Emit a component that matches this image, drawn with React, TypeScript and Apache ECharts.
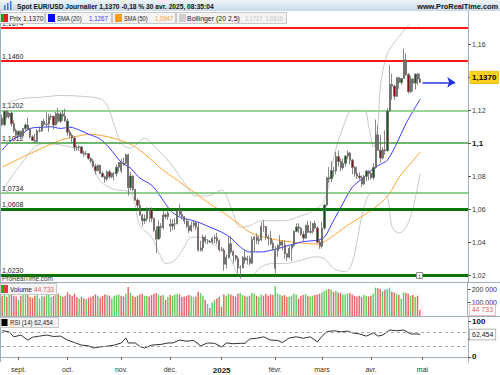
import React, { useEffect, useRef } from 'react';
import * as echarts from 'echarts';

// ---------- data ----------
const SLOTS = 200; // trading-day slots on the time axis (data + blank area on the right)
const monthTickIdx = [7, 28, 51, 72, 94, 117, 137, 158, 180];
const monthLabels = ['sept.', 'oct.', 'nov.', 'déc.', '2025', 'févr.', 'mars', 'avr.', 'mai'];
const priceTicks = [1.02, 1.04, 1.06, 1.08, 1.1, 1.12, 1.14, 1.16];
const priceLabels = [1.02, 1.04, 1.06, 1.08, 1.1, 1.12, 1.16]; // 1,14 sits under the price box
const volumeTicks = [100000, 200000];
const rsiTicks = [0, 50, 100];
const rsiLabels = [0, 100]; // 50 sits under the RSI value box

const opens = [
  1.1151, 1.1113, 1.1193, 1.1161, 1.1183, 1.1119, 1.1077,
  1.1048, 1.1073, 1.1045, 1.1089, 1.1111, 1.1085, 1.1039, 1.1017, 1.1012, 1.1075, 1.1076, 1.1133, 1.1115, 1.1117, 1.1161, 1.1164, 1.1111, 1.1180, 1.1133, 1.1177, 1.1164,
  1.1135, 1.1067, 1.1048, 1.1032, 1.0975, 1.0974, 1.0978, 1.0940, 1.0935, 1.0937, 1.0908, 1.0891, 1.0861, 1.0833, 1.0867, 1.0817, 1.0797, 1.0783, 1.0827, 1.0797, 1.0817, 1.0817, 1.0855,
  1.0884, 1.0880, 1.0877, 1.0930, 1.0730, 1.0801, 1.0720, 1.0655, 1.0623, 1.0564, 1.0529, 1.0542, 1.0598, 1.0596, 1.0544, 1.0472, 1.0418, 1.0495, 1.0488, 1.0565, 1.0555,
  1.0510, 1.0497, 1.0510, 1.0511, 1.0588, 1.0567, 1.0554, 1.0528, 1.0496, 1.0469, 1.0502, 1.0516, 1.0491, 1.0351, 1.0364, 1.0430, 1.0405, 1.0405, 1.0401, 1.0422, 1.0427, 1.0407,
  1.0354, 1.0350, 1.0265, 1.0308, 1.0390, 1.0342, 1.0318, 1.0300, 1.0244, 1.0244, 1.0307, 1.0290, 1.0300, 1.0272, 1.0415, 1.0431, 1.0409, 1.0415, 1.0496, 1.0494, 1.0431, 1.0422, 1.0392,
  1.0240, 1.0347, 1.0379, 1.0402, 1.0382, 1.0330, 1.0308, 1.0362, 1.0380, 1.0465, 1.0492, 1.0484, 1.0448, 1.0424, 1.0502, 1.0459, 1.0465, 1.0512, 1.0485, 1.0399,
  1.0375, 1.0485, 1.0625, 1.0791, 1.0784, 1.0834, 1.0833, 1.0919, 1.0889, 1.0851, 1.0878, 1.0922, 1.0941, 1.0897, 1.0853, 1.0816, 1.0801, 1.0791, 1.0753, 1.0799, 1.0831,
  1.0816, 1.0791, 1.0852, 1.1051, 1.0958, 1.0911, 1.0960, 1.0954, 1.1196, 1.1357, 1.1347, 1.1285, 1.1398, 1.1369, 1.1393, 1.1506, 1.1417, 1.1313, 1.1390, 1.1365, 1.1420, 1.1390,
];
const closes = [
  1.1113, 1.1193, 1.1161, 1.1183, 1.1119, 1.1077, 1.1048,
  1.1073, 1.1045, 1.1089, 1.1111, 1.1085, 1.1039, 1.1017, 1.1012, 1.1075, 1.1076, 1.1133, 1.1115, 1.1117, 1.1161, 1.1164, 1.1111, 1.1180, 1.1133, 1.1177, 1.1164, 1.1135,
  1.1067, 1.1048, 1.1032, 1.0975, 1.0974, 1.0978, 1.0940, 1.0935, 1.0937, 1.0908, 1.0891, 1.0861, 1.0833, 1.0867, 1.0817, 1.0797, 1.0783, 1.0827, 1.0797, 1.0817, 1.0817, 1.0855, 1.0884,
  1.0833, 1.0877, 1.0930, 1.0730, 1.0801, 1.0720, 1.0655, 1.0623, 1.0564, 1.0529, 1.0542, 1.0598, 1.0596, 1.0544, 1.0472, 1.0418, 1.0495, 1.0488, 1.0565, 1.0555, 1.0577,
  1.0497, 1.0510, 1.0511, 1.0588, 1.0567, 1.0554, 1.0528, 1.0496, 1.0469, 1.0502, 1.0516, 1.0491, 1.0351, 1.0364, 1.0430, 1.0405, 1.0405, 1.0401, 1.0422, 1.0427, 1.0407, 1.0354,
  1.0350, 1.0265, 1.0308, 1.0390, 1.0342, 1.0318, 1.0300, 1.0244, 1.0244, 1.0307, 1.0290, 1.0300, 1.0272, 1.0415, 1.0431, 1.0409, 1.0415, 1.0496, 1.0494, 1.0431, 1.0422, 1.0392, 1.0362,
  1.0347, 1.0379, 1.0402, 1.0382, 1.0330, 1.0308, 1.0362, 1.0380, 1.0465, 1.0492, 1.0484, 1.0448, 1.0424, 1.0502, 1.0459, 1.0465, 1.0512, 1.0485, 1.0399, 1.0375,
  1.0485, 1.0625, 1.0791, 1.0784, 1.0834, 1.0833, 1.0919, 1.0889, 1.0851, 1.0878, 1.0922, 1.0941, 1.0897, 1.0853, 1.0816, 1.0801, 1.0791, 1.0753, 1.0799, 1.0831, 1.0816,
  1.0791, 1.0852, 1.1051, 1.0958, 1.0911, 1.0960, 1.0954, 1.1196, 1.1357, 1.1347, 1.1285, 1.1398, 1.1369, 1.1393, 1.1506, 1.1417, 1.1313, 1.1390, 1.1365, 1.1420, 1.1390, 1.1370,
];
const highs = [
  1.1174, 1.1201, 1.1202, 1.1189, 1.1190, 1.1140, 1.1088,
  1.1076, 1.1078, 1.1091, 1.1120, 1.1155, 1.1090, 1.1049, 1.1057, 1.1086, 1.1102, 1.1136, 1.1148, 1.1189, 1.1180, 1.1179, 1.1168, 1.1190, 1.1214, 1.1190, 1.1200, 1.1210,
  1.1149, 1.1083, 1.1060, 1.1045, 1.0985, 1.0989, 1.0980, 1.0955, 1.0954, 1.0940, 1.0914, 1.0904, 1.0874, 1.0870, 1.0868, 1.0830, 1.0804, 1.0836, 1.0838, 1.0822, 1.0825, 1.0870, 1.0886,
  1.0905, 1.0913, 1.0937, 1.0937, 1.0826, 1.0805, 1.0723, 1.0665, 1.0654, 1.0572, 1.0568, 1.0610, 1.0609, 1.0610, 1.0548, 1.0497, 1.0532, 1.0515, 1.0587, 1.0574, 1.0596,
  1.0541, 1.0539, 1.0545, 1.0597, 1.0630, 1.0594, 1.0557, 1.0541, 1.0530, 1.0524, 1.0534, 1.0521, 1.0515, 1.0408, 1.0445, 1.0441, 1.0418, 1.0412, 1.0432, 1.0445, 1.0456, 1.0415,
  1.0370, 1.0365, 1.0323, 1.0437, 1.0436, 1.0350, 1.0322, 1.0315, 1.0260, 1.0315, 1.0353, 1.0317, 1.0318, 1.0435, 1.0436, 1.0453, 1.0435, 1.0522, 1.0533, 1.0495, 1.0444, 1.0468, 1.0410,
  1.0376, 1.0387, 1.0442, 1.0411, 1.0410, 1.0330, 1.0375, 1.0385, 1.0470, 1.0513, 1.0515, 1.0490, 1.0467, 1.0505, 1.0529, 1.0528, 1.0515, 1.0529, 1.0497, 1.0412,
  1.0522, 1.0630, 1.0797, 1.0855, 1.0889, 1.0857, 1.0947, 1.0955, 1.0906, 1.0906, 1.0928, 1.0955, 1.0946, 1.0905, 1.0861, 1.0858, 1.0823, 1.0804, 1.0809, 1.0838, 1.0835,
  1.0828, 1.0880, 1.1144, 1.1107, 1.1050, 1.0975, 1.1078, 1.1215, 1.1474, 1.1422, 1.1356, 1.1400, 1.1405, 1.1396, 1.1574, 1.1547, 1.1426, 1.1410, 1.1395, 1.1423, 1.1425, 1.1425,
];
const lows = [
  1.1104, 1.1103, 1.1150, 1.1150, 1.1102, 1.1065, 1.1027,
  1.1040, 1.1026, 1.1036, 1.1076, 1.1077, 1.1027, 1.1014, 1.1001, 1.1002, 1.1065, 1.1070, 1.1105, 1.1095, 1.1069, 1.1143, 1.1083, 1.1108, 1.1122, 1.1123, 1.1136, 1.1130,
  1.1046, 1.1032, 1.1003, 1.0952, 1.0955, 1.0955, 1.0935, 1.0918, 1.0928, 1.0900, 1.0880, 1.0854, 1.0811, 1.0830, 1.0812, 1.0790, 1.0761, 1.0770, 1.0785, 1.0788, 1.0775, 1.0798, 1.0827,
  1.0818, 1.0862, 1.0870, 1.0682, 1.0715, 1.0710, 1.0650, 1.0597, 1.0560, 1.0496, 1.0510, 1.0525, 1.0522, 1.0521, 1.0462, 1.0332, 1.0417, 1.0426, 1.0478, 1.0540, 1.0535,
  1.0460, 1.0471, 1.0474, 1.0509, 1.0558, 1.0537, 1.0510, 1.0484, 1.0455, 1.0462, 1.0488, 1.0474, 1.0343, 1.0343, 1.0343, 1.0390, 1.0386, 1.0394, 1.0387, 1.0393, 1.0387, 1.0342,
  1.0343, 1.0226, 1.0239, 1.0300, 1.0330, 1.0270, 1.0286, 1.0210, 1.0178, 1.0240, 1.0268, 1.0264, 1.0260, 1.0266, 1.0340, 1.0387, 1.0385, 1.0406, 1.0461, 1.0413, 1.0380, 1.0382, 1.0347,
  1.0210, 1.0310, 1.0359, 1.0350, 1.0300, 1.0285, 1.0300, 1.0285, 1.0370, 1.0460, 1.0455, 1.0437, 1.0400, 1.0420, 1.0455, 1.0450, 1.0451, 1.0479, 1.0392, 1.0359,
  1.0360, 1.0474, 1.0618, 1.0760, 1.0766, 1.0797, 1.0812, 1.0858, 1.0831, 1.0840, 1.0860, 1.0903, 1.0873, 1.0812, 1.0797, 1.0785, 1.0777, 1.0733, 1.0746, 1.0770, 1.0775,
  1.0780, 1.0778, 1.0845, 1.0953, 1.0882, 1.0900, 1.0930, 1.0950, 1.1194, 1.1264, 1.1263, 1.1282, 1.1330, 1.1357, 1.1392, 1.1409, 1.1302, 1.1305, 1.1313, 1.1326, 1.1355, 1.1365,
];
// volumes, thousands
const volumesK = [
  150, 165, 140, 155, 160, 150, 145,
  120, 150, 155, 160, 170, 140, 135, 150, 160, 130, 150, 145, 175, 160, 140, 150, 155, 165, 150, 140, 150,
  175, 160, 150, 165, 140, 130, 140, 130, 125, 135, 140, 150, 160, 150, 135, 150, 160, 155, 150, 130, 150, 155, 160,
  150, 145, 165, 215, 170, 150, 140, 150, 160, 165, 150, 150, 145, 155, 165, 170, 160, 150, 155, 120, 140,
  155, 150, 160, 165, 160, 140, 145, 150, 155, 150, 140, 145, 180, 170, 150, 120, 90, 60, 100, 120, 130, 140,
  70, 160, 150, 165, 160, 150, 145, 165, 170, 155, 150, 145, 150, 170, 165, 150, 140, 160, 150, 165, 150, 160, 155,
  220, 165, 160, 150, 155, 140, 145, 150, 165, 160, 130, 150, 155, 160, 150, 145, 150, 155, 160, 165,
  175, 185, 195, 200, 195, 180, 185, 175, 170, 160, 160, 165, 170, 160, 150, 145, 150, 140, 155, 150, 145,
  150, 165, 210, 205, 200, 185, 195, 200, 210, 180, 175, 165, 155, 130, 175, 170, 165, 150, 155, 140, 150, 44.733,
];
// indicator readings [bar index, value]
const sma20Pts = [
  [0, 1.0958], [4, 1.1018], [8, 1.1048], [12, 1.109], [17, 1.1097], [21, 1.110], [25, 1.109], [29, 1.1097],
  [33, 1.108], [37, 1.1055], [42, 1.1025], [46, 1.097], [51, 1.0885], [55, 1.0848], [59, 1.0788], [64, 1.0745],
  [68, 1.0673], [72, 1.0594], [76, 1.0552], [81, 1.0533], [85, 1.0515], [89, 1.049], [94, 1.046], [98, 1.0424],
  [102, 1.037], [106, 1.034], [111, 1.034], [115, 1.035], [119, 1.0364], [128, 1.040], [135, 1.0412], [138, 1.043],
  [142, 1.0533], [146, 1.0636], [150, 1.0733], [155, 1.0794], [159, 1.0848], [163, 1.0879], [165, 1.0897],
  [169, 1.100], [173, 1.1121], [179, 1.1267],
];
const sma50Pts = [
  [0, 1.0855], [8, 1.091], [17, 1.097], [25, 1.1018], [34, 1.1048], [38, 1.1055], [42, 1.1048], [48, 1.103],
  [54, 1.100], [59, 1.0958], [69, 1.0836], [75, 1.0776], [81, 1.0715], [88, 1.0642], [95, 1.0576], [102, 1.0503],
  [106, 1.046], [112, 1.043], [119, 1.041], [128, 1.0394], [135, 1.0388], [141, 1.043], [148, 1.0503],
  [155, 1.0564], [162, 1.0636], [166, 1.0697], [170, 1.0794], [175, 1.0879], [179, 1.0947],
];
const bollUpPts = [
  [0, 1.123], [8, 1.127], [17, 1.128], [25, 1.129], [34, 1.1285], [42, 1.127], [45, 1.123], [48, 1.111],
  [51, 1.100], [55, 1.097], [61, 1.103], [64, 1.100], [68, 1.094], [72, 1.088], [78, 1.076], [83, 1.068],
  [88, 1.068], [94, 1.0715], [98, 1.061], [102, 1.049], [106, 1.050], [111, 1.053], [121, 1.053], [128, 1.056],
  [132, 1.058], [138, 1.0655], [142, 1.0915], [146, 1.1097], [150, 1.120], [155, 1.120], [157, 1.110],
  [159, 1.0976], [161, 1.112], [162, 1.135], [165, 1.1545], [169, 1.163], [173, 1.170], [176, 1.173], [179, 1.1717],
];
const bollLowPts = [
  [0, 1.071], [8, 1.087], [17, 1.0997], [25, 1.099], [34, 1.095], [38, 1.088], [42, 1.077], [48, 1.072],
  [55, 1.070], [59, 1.050], [64, 1.043], [68, 1.031], [70, 1.027], [74, 1.029], [78, 1.037], [81, 1.043],
  [85, 1.043], [89, 1.040], [94, 1.035], [98, 1.029], [102, 1.019], [106, 1.019], [111, 1.025], [116, 1.027],
  [121, 1.027], [128, 1.029], [134, 1.031], [138, 1.030], [142, 1.024], [147, 1.022], [150, 1.028], [152, 1.041],
  [155, 1.061], [158, 1.0697], [162, 1.070], [165, 1.067], [167, 1.049], [170, 1.0455], [173, 1.049], [176, 1.061], [179, 1.0816],
];
const rsiPts = [
  [0, 73], [3, 70], [5, 56], [8, 61], [11, 47], [13, 55], [16, 58], [19, 61], [22, 57], [25, 58], [28, 47],
  [31, 40], [34, 33], [37, 31], [39, 25], [42, 28], [45, 30], [48, 33], [51, 39], [53, 53], [54, 39], [57, 39],
  [59, 29], [61, 25], [64, 33], [68, 35], [71, 39], [73, 39], [76, 47], [79, 44], [82, 46], [85, 31], [88, 39],
  [91, 38], [94, 28], [96, 39], [99, 37], [102, 38], [104, 38], [106, 50], [109, 52], [112, 56], [115, 47],
  [118, 46], [120, 40], [123, 53], [126, 56], [129, 52], [132, 56], [135, 42], [137, 58], [139, 70], [142, 73],
  [145, 70], [148, 72], [150, 67], [153, 64], [156, 58], [159, 67], [161, 58], [163, 61], [166, 75], [169, 73],
  [172, 75], [175, 64], [178, 64], [179, 62.454],
];
const levelValues = [1.1674, 1.146, 1.1202, 1.1012, 1.0734, 1.0608, 1.023];
const levelLabels = ['1,1674', '1,1460', '1,1202', '1,1012', '1,0734', '1,0608', '1,0230'];
const lastPrice = 1.137;
const lastVolume = 44733;
const lastRsi = 62.454;
const arrowEndSlot = 194;

// ---------- styles ----------
const SANS = "'Liberation Sans', Arial, sans-serif";
const levelStyles = [
  { color: '#ff1a1a', width: 2 },
  { color: '#ff1a1a', width: 2 },
  { color: '#96d596', width: 2.2 },
  { color: '#3f9f3f', width: 1.5 },
  { color: '#6cbf6c', width: 1.5 },
  { color: '#0b750b', width: 3 },
  { color: '#0b750b', width: 3 },
];
const CLEAR = { color: 'rgba(0,0,0,0)', width: 0 };

const fmtPrice = (v: number) => String(+v.toFixed(2)).replace('.', ',');

export default function App() {
  const ref = useRef<HTMLDivElement>(null);
  useEffect(() => {
    document.body.style.margin = '0';
    if (!ref.current) return;
    const chart = echarts.init(ref.current, undefined, { renderer: 'svg' });
    const cats = Array.from({ length: SLOTS }, (_, i) => String(i));
    const isMonth = (i: number) => monthTickIdx.includes(i);
    const axisLineColor = '#9fb0ba';

    // fit a text into a given width (the reference uses a condensed font)
    const cvs = document.createElement('canvas');
    const ctx = cvs.getContext('2d') as CanvasRenderingContext2D;
    const fit = (text: string, x: number, y: number, w: number, fill: string, bold = false, align = 'left') => {
      const font = (bold ? 'bold ' : '') + '8px ' + SANS;
      ctx.font = font;
      const m = ctx.measureText(text).width || w;
      return {
        type: 'text', x, y, z: 52, scaleX: w / m, scaleY: 1,
        style: { text, font, fill, align, verticalAlign: 'middle' },
      };
    };

    const hiddenX = (gi: number) => ({
      type: 'category', gridIndex: gi, data: cats, boundaryGap: true,
      axisLine: { show: false }, axisTick: { show: false }, axisLabel: { show: false }, splitLine: { show: false },
    });

    const valueBoxLabel = (text: string, extra: any) => ({
      show: true, position: 'end', distance: 2, formatter: text, fontFamily: SANS, fontSize: 7,
      padding: [2, 2, 1, 2], ...extra,
    });

    const option: any = {
      animation: false,
      backgroundColor: '#ffffff',
      grid: [
        { left: 1, top: 25, width: 467, height: 257 },
        { left: 1, top: 282, width: 467, height: 34 },
        { left: 1, top: 316, width: 467, height: 46 },
      ],
      xAxis: [
        hiddenX(0),
        hiddenX(1),
        {
          type: 'category', gridIndex: 2, data: cats, boundaryGap: true,
          axisLine: { show: true, lineStyle: { color: axisLineColor } },
          axisTick: { show: true, alignWithLabel: true, interval: (i: number) => isMonth(i), length: 3, lineStyle: { color: '#666' } },
          axisLabel: {
            interval: (i: number) => isMonth(i), margin: 4, fontSize: 7, fontFamily: SANS, color: '#333',
            formatter: (v: string) => {
              const k = monthTickIdx.indexOf(Number(v));
              const t = k >= 0 ? monthLabels[k] : '';
              return t === '2025' ? '{b|' + t + '}' : t;
            },
            rich: { b: { fontWeight: 'bold', fontSize: 8, fontFamily: SANS, color: '#222' } },
          },
          splitLine: { show: false },
        },
      ],
      yAxis: [
        {
          type: 'value', gridIndex: 0, position: 'right', min: 1.01575, max: 1.1718,
          axisLine: { show: true, lineStyle: { color: axisLineColor } },
          axisTick: { show: true, customValues: priceTicks, length: 3, lineStyle: { color: '#555' } },
          axisLabel: {
            customValues: priceLabels, margin: 4, fontSize: 7, fontFamily: SANS, color: '#333',
            formatter: (v: number) => (Math.abs(v - 1.1) < 1e-9 ? '{b|1,1}' : fmtPrice(v)),
            rich: { b: { fontWeight: 'bold', fontSize: 8, fontFamily: SANS, color: '#111' } },
          },
          splitLine: { show: false },
        },
        {
          type: 'value', gridIndex: 1, position: 'right', min: 0, max: 251852,
          axisLine: { show: true, lineStyle: { color: axisLineColor } },
          axisTick: { show: true, customValues: volumeTicks, length: 3, lineStyle: { color: '#555' } },
          axisLabel: {
            customValues: volumeTicks, margin: 4, fontSize: 7, fontFamily: SANS, color: '#333',
            formatter: (v: number) => String(v / 1000) + ' 000',
          },
          splitLine: { show: false },
        },
        {
          type: 'value', gridIndex: 2, position: 'right', min: -13.9, max: 113.9,
          axisLine: { show: true, lineStyle: { color: axisLineColor } },
          axisTick: { show: true, customValues: rsiTicks, length: 3, lineStyle: { color: '#555' } },
          axisLabel: {
            customValues: rsiLabels, margin: 4, fontSize: 7, fontFamily: SANS, color: '#333',
            formatter: (v: number) => '{b|' + v + '}',
            rich: { b: { fontWeight: 'bold', fontSize: 8, fontFamily: SANS, color: '#111' } },
          },
          splitLine: { show: false },
        },
      ],
      series: [
        {
          name: 'bollUp', type: 'line', xAxisIndex: 0, yAxisIndex: 0, z: 1, data: bollUpPts,
          symbol: 'none', smooth: 0.35, lineStyle: { color: '#c9c9c9', width: 1 },
          markLine: {
            silent: true, symbol: 'none', animation: false,
            data: [
              ...levelValues.map((v, k) => ({
                yAxis: v,
                lineStyle: { color: levelStyles[k].color, width: levelStyles[k].width, type: 'solid' },
                label: {
                  show: true, position: 'insideStartTop', distance: 1, formatter: levelLabels[k],
                  fontFamily: SANS, fontSize: 7, color: '#222',
                },
              })),
              {
                yAxis: lastPrice,
                lineStyle: CLEAR,
                label: valueBoxLabel('1,1370', {
                  fontWeight: 'bold', fontSize: 8, color: '#000',
                  backgroundColor: '#ffd21f', borderColor: '#d0a800', borderWidth: 0.5, padding: [2, 2, 2, 2],
                }),
              },
            ],
          },
        },
        {
          name: 'bollLow', type: 'line', xAxisIndex: 0, yAxisIndex: 0, z: 1, data: bollLowPts,
          symbol: 'none', smooth: 0.35, lineStyle: { color: '#c9c9c9', width: 1 },
        },
        {
          name: 'sma50', type: 'line', xAxisIndex: 0, yAxisIndex: 0, z: 2, data: sma50Pts,
          symbol: 'none', smooth: 0.35, lineStyle: { color: '#ffa536', width: 1 },
        },
        {
          name: 'sma20', type: 'line', xAxisIndex: 0, yAxisIndex: 0, z: 2, data: sma20Pts,
          symbol: 'none', smooth: 0.35, lineStyle: { color: '#3a3aff', width: 1 },
        },
        {
          name: 'prix', type: 'candlestick', xAxisIndex: 0, yAxisIndex: 0, z: 5,
          data: opens.map((o, i) => [o, closes[i], lows[i], highs[i]]),
          barWidth: '75%',
          itemStyle: { color: '#0c5a14', color0: '#8a1010', borderColor: '#6a6a6a', borderColor0: '#6a6a6a', borderWidth: 0.8 },
          markLine: {
            silent: true, symbol: ['none', 'arrow'], symbolSize: 8, animation: false,
            lineStyle: { color: '#2233dd', width: 1.5, type: 'solid' },
            label: { show: false },
            data: [[{ coord: ['180', lastPrice] }, { coord: [String(arrowEndSlot), lastPrice] }]],
          },
        },
        {
          name: 'volume', type: 'bar', xAxisIndex: 1, yAxisIndex: 1, barWidth: '62%',
          data: volumesK.map((v, i) => ({
            value: v * 1000,
            itemStyle: { color: closes[i] >= opens[i] ? '#5cd05c' : '#e46464' },
          })),
          markLine: {
            silent: true, symbol: 'none', animation: false,
            data: [{
              yAxis: lastVolume, lineStyle: CLEAR,
              label: valueBoxLabel('44 733', { color: '#e06060', backgroundColor: '#ffffff', borderColor: '#e8a0a0', borderWidth: 0.7 }),
            }],
          },
        },
        {
          name: 'rsi', type: 'line', xAxisIndex: 2, yAxisIndex: 2, data: rsiPts,
          symbol: 'none', lineStyle: { color: '#333333', width: 1 },
          markLine: {
            silent: true, symbol: 'none', animation: false,
            data: [
              { yAxis: 70, lineStyle: { color: '#a8a8a8', width: 1, type: [3, 3] }, label: { show: false } },
              { yAxis: 30, lineStyle: { color: '#a8a8a8', width: 1, type: [3, 3] }, label: { show: false } },
              {
                yAxis: lastRsi, lineStyle: CLEAR,
                label: valueBoxLabel('62,454', { color: '#222', backgroundColor: '#ffffff', borderColor: '#9a9a9a', borderWidth: 0.7 }),
              },
            ],
          },
        },
      ],
      graphic: [
        // title bar
        {
          type: 'rect', shape: { x: 0, y: 0, width: 500, height: 11 }, z: 50,
          style: { fill: new echarts.graphic.LinearGradient(0, 0, 0, 1, [{ offset: 0, color: '#eef4f9' }, { offset: 1, color: '#c9d9e6' }]) },
        },
        { type: 'rect', shape: { x: 4, y: 5, width: 1.5, height: 5 }, z: 51, style: { fill: '#3a7bd5' } },
        { type: 'rect', shape: { x: 7, y: 3, width: 1.5, height: 7 }, z: 51, style: { fill: '#3a7bd5' } },
        { type: 'rect', shape: { x: 10, y: 1, width: 1.5, height: 9 }, z: 51, style: { fill: '#3a7bd5' } },
        fit('Spot EUR/USD Journalier 1,1370 -0,18 % 30 avr. 2025, 08:35:04', 17, 6, 197, '#111', true),
        fit('www.ProRealTime.com', 498, 6, 81, '#111', true, 'right'),
        // frame lines
        { type: 'line', z: 40, shape: { x1: 468.5, y1: 11, x2: 468.5, y2: 25 }, style: { stroke: axisLineColor, lineWidth: 1 } },
        { type: 'line', z: 40, shape: { x1: 0.5, y1: 11, x2: 0.5, y2: 362 }, style: { stroke: axisLineColor, lineWidth: 1 } },
        { type: 'line', z: 40, shape: { x1: 0, y1: 282.5, x2: 500, y2: 282.5 }, style: { stroke: axisLineColor, lineWidth: 1 } },
        { type: 'line', z: 40, shape: { x1: 0, y1: 316.5, x2: 500, y2: 316.5 }, style: { stroke: axisLineColor, lineWidth: 1 } },
        // legend boxes
        { type: 'rect', z: 50, shape: { x: 0.5, y: 12.5, width: 44, height: 11 }, style: { fill: '#f4f4f4', stroke: '#c8c8c8', lineWidth: 1 } },
        { type: 'rect', z: 51, shape: { x: 1, y: 14, width: 3, height: 8 }, style: { fill: '#22a022' } },
        { type: 'rect', z: 51, shape: { x: 4, y: 14, width: 4, height: 8 }, style: { fill: '#e02020' } },
        fit('Prix 1,1370', 9.5, 18.5, 34, '#222'),

        { type: 'rect', z: 50, shape: { x: 45.5, y: 12.5, width: 66, height: 11 }, style: { fill: '#f4f4f4', stroke: '#c8c8c8', lineWidth: 1 } },
        { type: 'rect', z: 51, shape: { x: 48, y: 14, width: 7, height: 8 }, style: { fill: '#0000ff' } },
        fit('SMA (20)', 57, 18.5, 25, '#222'),
        fit('1,1267', 89, 18.5, 19, '#3a3aff'),

        { type: 'rect', z: 50, shape: { x: 112.5, y: 12.5, width: 63, height: 11 }, style: { fill: '#f4f4f4', stroke: '#c8c8c8', lineWidth: 1 } },
        { type: 'rect', z: 51, shape: { x: 115, y: 14, width: 7, height: 8 }, style: { fill: '#ff9a1a' } },
        fit('SMA (50)', 124, 18.5, 24, '#222'),
        fit('1,0947', 155, 18.5, 18, '#f5a030'),

        { type: 'rect', z: 50, shape: { x: 176.5, y: 12.5, width: 110, height: 11 }, style: { fill: '#f4f4f4', stroke: '#c8c8c8', lineWidth: 1 } },
        { type: 'rect', z: 51, shape: { x: 179, y: 14, width: 7, height: 8 }, style: { fill: '#cfcfcf' } },
        fit('Bollinger (20 2,5)', 187, 18.5, 53, '#222'),
        fit('1,1717  1,0816', 245, 18.5, 38, '#c4c4c4'),

        // main footer
        fit('ProRealTime.com', 2, 278.5, 51, '#333'),
        { type: 'rect', z: 51, shape: { x: 416.5, y: 272.5, width: 6, height: 6 }, style: { fill: '#fff', stroke: '#8a8a8a', lineWidth: 1 } },
        { type: 'text', z: 52, x: 419.5, y: 276, style: { text: 'i', font: 'bold 6px ' + SANS, fill: '#666', align: 'center', verticalAlign: 'middle' } },
        // volume legend
        { type: 'rect', z: 50, shape: { x: 0.5, y: 283.5, width: 56, height: 11 }, style: { fill: '#f4f4f4', stroke: '#c8c8c8', lineWidth: 1 } },
        { type: 'rect', z: 51, shape: { x: 1, y: 285, width: 3, height: 8 }, style: { fill: '#22b022' } },
        { type: 'rect', z: 51, shape: { x: 4, y: 285, width: 4, height: 8 }, style: { fill: '#e04040' } },
        fit('Volume', 10, 289.5, 22, '#222'),
        fit('44 733', 34, 289.5, 20, '#e06060'),
        // rsi legend
        { type: 'rect', z: 50, shape: { x: 0.5, y: 317.5, width: 58, height: 10 }, style: { fill: '#f4f4f4', stroke: '#c8c8c8', lineWidth: 1 } },
        { type: 'rect', z: 51, shape: { x: 1.5, y: 319, width: 6, height: 7 }, style: { fill: '#000' } },
        fit('RSI (14) 62,454', 10, 323, 43, '#222'),
      ],
    };
    chart.setOption(option);
    return () => chart.dispose();
  }, []);
  return <div ref={ref} style={{ width: 500, height: 375 }} />;
}
